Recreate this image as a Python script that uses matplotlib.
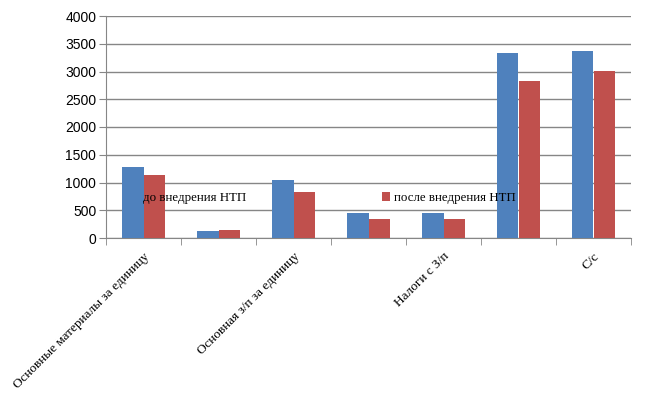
import matplotlib
matplotlib.use('Agg')
import matplotlib.pyplot as plt
import numpy as np

categories = ['Основные материалы за единицу', 'Основные материалы за единицу ',
              'Основная з/п за единицу', 'Дополнительная з/п',
              'Налоги с З/п', 'Накладные расходы', 'С/с']
tick_labels = ['Основные материалы за единицу', '', 'Основная з/п за единицу', '',
               'Налоги с З/п', '', 'С/с']
before = [1285, 119, 1048, 442, 442, 3327, 3362]
after = [1140, 137, 832, 347, 347, 2827, 3005]
series_names = ['до внедрения НТП', 'после внедрения НТП']

fig = plt.figure(figsize=(6.45, 3.95), dpi=100)
ax = fig.add_axes([106/645, 1-238/395, 525/645, 222/395])

x = np.arange(len(categories))
w = 1/3.5
ax.bar(x - w/2, before, w, color='#4F81BD', label=series_names[0], zorder=3)
ax.bar(x + w/2, after, w, color='#C0504D', label=series_names[1], zorder=3)

ax.set_xlim(-0.5, len(categories) - 0.5)
ax.set_ylim(0, 4000)
ax.set_yticks(range(0, 4001, 500))
ax.yaxis.grid(True, color='#868686', linewidth=1)
ax.set_axisbelow(True)

ax.set_xticks(x)
ax.set_xticklabels(tick_labels, rotation=45, ha='right', rotation_mode='anchor',
                   family='Liberation Serif', fontsize=9.5)
ax.set_xticks(np.arange(-0.5, len(categories)), minor=True)
ax.tick_params(axis='x', which='major', length=0, pad=9)
ax.tick_params(axis='x', which='minor', length=5, color='#868686')
ax.tick_params(axis='y', length=5, color='#868686', labelsize=10, pad=2)
for t in ax.get_yticklabels():
    t.set_family('Liberation Sans')

for s in ['top', 'right']:
    ax.spines[s].set_visible(False)
for s in ['left', 'bottom']:
    ax.spines[s].set_color('#868686')

leg = ax.legend(ncol=2, loc='center left', bbox_to_anchor=(131/645, 1-198/395),
                bbox_transform=fig.transFigure, frameon=False, borderaxespad=0,
                borderpad=0, handlelength=0.62, handleheight=0.62, handletextpad=0.3,
                columnspacing=10.5, prop={'family': 'Liberation Serif', 'size': 9.3})

fig.savefig('out.png', dpi=100)
